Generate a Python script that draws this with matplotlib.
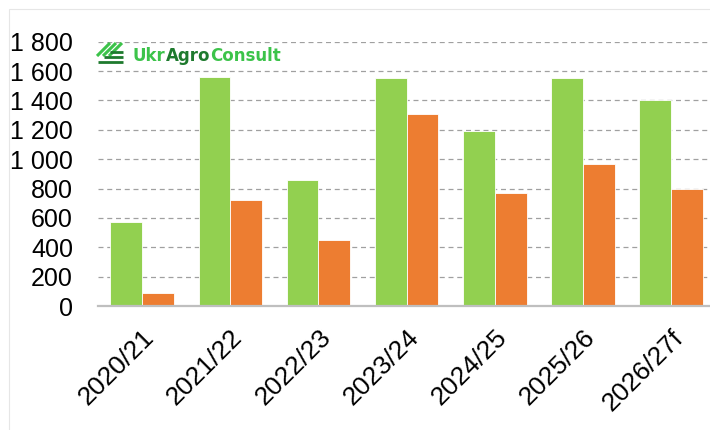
import matplotlib.pyplot as plt
import numpy as np
from matplotlib.lines import Line2D
from matplotlib.patches import Rectangle
from matplotlib.ticker import FuncFormatter

seasons = ['2020/21', '2021/22', '2022/23', '2023/24', '2024/25', '2025/26', '2026/27f']
green_vals = [570, 1560, 855, 1555, 1190, 1550, 1400]
orange_vals = [88, 722, 452, 1305, 768, 968, 795]
yticks = [0, 200, 400, 600, 800, 1000, 1200, 1400, 1600, 1800]

GREEN = '#92D050'
ORANGE = '#ED7D31'

plt.rcParams['font.family'] = ['Liberation Sans', 'DejaVu Sans']

fig = plt.figure(figsize=(7.1, 4.3), dpi=100)
ax = fig.add_axes([98 / 710, (430 - 306) / 430, 612 / 710, (306 - 41.7) / 430])

x = np.arange(len(seasons))
w = 0.36
ax.bar(x - w / 2, green_vals, w, color=GREEN, edgecolor='white', linewidth=0.6, zorder=3)
ax.bar(x + w / 2, orange_vals, w, color=ORANGE, edgecolor='white', linewidth=0.6, zorder=3)

ax.set_xlim(-0.5, 6.44)
ax.set_ylim(0, 1800)
ax.set_yticks(yticks)
ax.yaxis.set_major_formatter(FuncFormatter(lambda v, p: f'{int(v):,}'.replace(',', ' ')))
ax.set_xticks(x)
ax.set_xticklabels(seasons, rotation=45, ha='right', va='top', rotation_mode='anchor')
ax.tick_params(axis='y', length=0, labelsize=18, pad=18)
ax.tick_params(axis='x', length=0, labelsize=19, pad=14)

for v in yticks[1:]:
    ax.axhline(v, color='#A0A0A0', linestyle=(0, (4, 3)), linewidth=0.9, zorder=1)
for s in ['top', 'right', 'left']:
    ax.spines[s].set_visible(False)
ax.spines['bottom'].set_color('#BFBFBF')
ax.spines['bottom'].set_linewidth(1.6)
ax.spines['bottom'].set_zorder(4)

# faint outer frame
fig.add_artist(Rectangle((9 / 710, -0.05), 1.1, (430 - 9) / 430 + 0.05, transform=fig.transFigure,
                         fill=False, edgecolor='#E6E6E6', linewidth=0.8))

# logo
def px(xp, yp):
    return xp / 710, 1 - yp / 430

for x0 in [97, 103, 109]:
    a, b = px(x0, 56), px(x0 + 13, 43)
    fig.add_artist(Line2D([a[0], b[0]], [a[1], b[1]], color='#3CC34A', linewidth=2.2, solid_capstyle='butt'))
for y0, x0 in [(52, 110), (57, 104), (62, 98)]:
    a, b = px(x0, y0), px(123, y0)
    fig.add_artist(Line2D([a[0], b[0]], [a[1], b[1]], color='#1E7A2E', linewidth=2.0, solid_capstyle='butt'))

tx, ty = px(133, 56)
t1 = fig.text(tx, ty, 'Ukr', color='#3CC34A', fontsize=12, fontweight='bold',
              family='DejaVu Sans', va='center')
fig.canvas.draw()
r = fig.canvas.get_renderer()
bb = t1.get_window_extent(r)
t2 = fig.text(bb.x1 / 710, ty, 'Agro', color='#1E7A2E', fontsize=12, fontweight='bold',
              family='DejaVu Sans', va='center')
bb = t2.get_window_extent(r)
fig.text(bb.x1 / 710, ty, 'Consult', color='#3CC34A', fontsize=12, fontweight='bold',
         family='DejaVu Sans', va='center')

fig.savefig('out.png', dpi=100)
